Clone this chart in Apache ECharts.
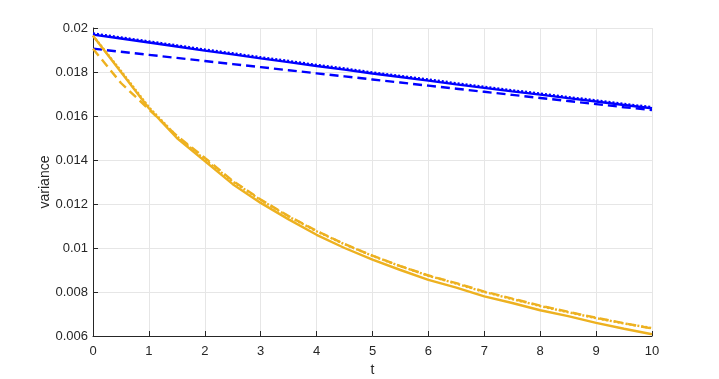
<!DOCTYPE html>
<html>
<head>
<meta charset="utf-8">
<script src="https://cdn.jsdelivr.net/npm/echarts@6/dist/echarts.min.js"></script>
<style>
  html, body { margin: 0; padding: 0; background: #fff; }
  #chart { width: 719px; height: 379px; }
</style>
</head>
<body>
<div id="chart"></div>
<script>
// t grid, every 0.5
const tValues = [0, 0.5, 1, 1.5, 2, 2.5, 3, 3.5, 4, 4.5, 5, 5.5, 6, 6.5, 7, 7.5, 8, 8.5, 9, 9.5, 10]

const blueSolid = [0.0197, 0.01952, 0.01934, 0.01916, 0.01897, 0.0188, 0.01862, 0.01845, 0.01827, 0.01811, 0.01793,
  0.01777, 0.01761, 0.01744, 0.01728, 0.01712, 0.01697, 0.01681, 0.01666, 0.0165, 0.01635]
const blueDotted = [0.01975, 0.01957, 0.01939, 0.01921, 0.01902, 0.01885, 0.01867, 0.0185, 0.01832, 0.01816, 0.01798,
  0.01782, 0.01766, 0.01749, 0.01733, 0.01717, 0.01702, 0.01686, 0.01671, 0.01655, 0.0164]
const blueDashed = [0.01906, 0.01892, 0.01878, 0.01864, 0.0185, 0.01836, 0.01822, 0.01808, 0.01794, 0.0178, 0.01766,
  0.01752, 0.01738, 0.01724, 0.0171, 0.01696, 0.01682, 0.01668, 0.01654, 0.0164, 0.01627]

const orangeSolid = [0.01965, 0.018, 0.01635, 0.015, 0.01395, 0.0129, 0.01205, 0.0113, 0.0106, 0.01, 0.00947,
  0.009, 0.00855, 0.0082, 0.0078, 0.0075, 0.00717, 0.0069, 0.0066, 0.00633, 0.00608]
const orangeDashed = [0.01906, 0.0175, 0.0163, 0.0151, 0.0141, 0.01305, 0.0122, 0.01145, 0.01078, 0.01018, 0.00965,
  0.00918, 0.00875, 0.0084, 0.00802, 0.0077, 0.00738, 0.0071, 0.00683, 0.00658, 0.00634]
const orangeDotted = [0.01965, 0.01805, 0.0164, 0.01508, 0.01402, 0.01302, 0.01218, 0.01143, 0.01076, 0.01017, 0.00964,
  0.00917, 0.00874, 0.00838, 0.008, 0.00768, 0.00736, 0.00708, 0.00681, 0.00657, 0.00636]

const BLUE = '#0000ff'
const ORANGE = '#edb120'
const AXIS = '#262626'
const FONT = 'Liberation Sans'

const pairs = arr => tValues.map((t, i) => [t, arr[i]])

const lineSeries = (name, data, color, type) => ({
  name: name,
  type: 'line',
  data: pairs(data),
  showSymbol: false,
  symbol: 'none',
  smooth: false,
  lineStyle: { color: color, width: 2.4, type: type },
  itemStyle: { color: color }
})

const chart = echarts.init(document.getElementById('chart'))
chart.setOption({
  animation: false,
  backgroundColor: '#fff',
  grid: { left: 93, right: 67, top: 28, bottom: 43, outerBoundsMode: 'none', containLabel: false },
  xAxis: {
    type: 'value',
    min: 0,
    max: 10,
    interval: 1,
    name: 't',
    nameLocation: 'middle',
    nameGap: 27,
    nameMoveOverlap: false,
    nameTextStyle: { color: AXIS, fontSize: 14, fontFamily: FONT },
    axisLine: { show: true, lineStyle: { color: AXIS, width: 1 } },
    axisTick: { show: true, inside: true, length: 5, lineStyle: { color: AXIS } },
    axisLabel: { color: AXIS, fontSize: 13, fontFamily: FONT, margin: 9 },
    splitLine: { show: true, lineStyle: { color: '#e6e6e6', width: 1 } }
  },
  yAxis: {
    type: 'value',
    min: 0.006,
    max: 0.02,
    interval: 0.002,
    name: 'variance',
    nameLocation: 'middle',
    nameGap: 41,
    nameMoveOverlap: false,
    nameTextStyle: { color: AXIS, fontSize: 14, fontFamily: FONT },
    axisLine: { show: true, lineStyle: { color: AXIS, width: 1 } },
    axisTick: { show: true, inside: true, length: 5, lineStyle: { color: AXIS } },
    axisLabel: {
      color: AXIS,
      fontSize: 13,
      fontFamily: FONT,
      margin: 5,
      formatter: v => String(parseFloat(v.toFixed(3)))
    },
    splitLine: { show: true, lineStyle: { color: '#e6e6e6', width: 1 } }
  },
  series: [
    lineSeries('blue dashed', blueDashed, BLUE, [9, 5]),
    lineSeries('blue dotted', blueDotted, BLUE, [2, 2]),
    lineSeries('blue solid', blueSolid, BLUE, 'solid'),
    lineSeries('orange dashed', orangeDashed, ORANGE, [9, 5]),
    lineSeries('orange dotted', orangeDotted, ORANGE, [2, 2]),
    lineSeries('orange solid', orangeSolid, ORANGE, 'solid')
  ]
})
</script>
</body>
</html>
